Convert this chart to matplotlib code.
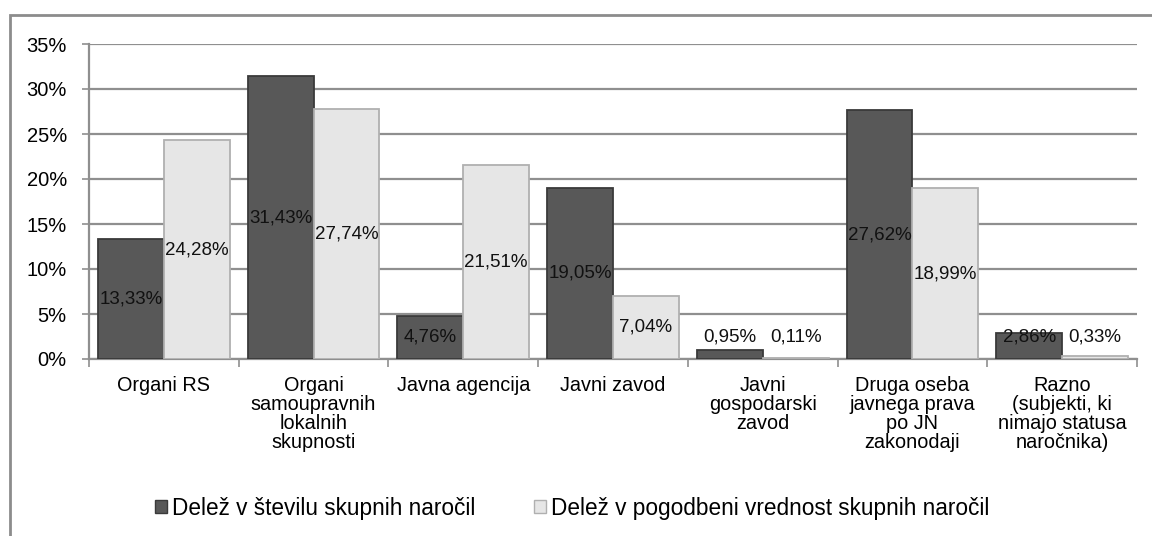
import matplotlib
matplotlib.use("Agg")
import matplotlib.pyplot as plt
import numpy as np
from matplotlib.patches import Rectangle, Patch

plt.rcParams['font.family'] = ['Liberation Sans', 'DejaVu Sans']

categories = [
    "Organi RS",
    "Organi\nsamoupravnih\nlokalnih\nskupnosti",
    "Javna agencija",
    "Javni zavod",
    "Javni\ngospodarski\nzavod",
    "Druga oseba\njavnega prava\npo JN\nzakonodaji",
    "Razno\n(subjekti, ki\nnimajo statusa\nnaročnika)",
]
share_count = [13.33, 31.43, 4.76, 19.05, 0.95, 27.62, 2.86]
share_value = [24.28, 27.74, 21.51, 7.04, 0.11, 18.99, 0.33]
series_names = ["Delež v številu skupnih naročil",
                "Delež v pogodbeni vrednost skupnih naročil"]
yticks = [0, 5, 10, 15, 20, 25, 30, 35]

fig = plt.figure(figsize=(11.52, 5.36), dpi=100)
W, H = 1152, 536
ax = fig.add_axes([89 / W, 1 - 359 / H, (1137 - 89) / W, (359 - 44) / H])

x = np.arange(len(categories))
bw = 0.44
dark, dark_edge = "#585858", "#3a3a3a"
light, light_edge = "#e6e6e6", "#b0b0b0"

ax.set_axisbelow(True)
ax.bar(x - bw / 2, share_count, bw, color=dark, edgecolor=dark_edge, linewidth=1.3, zorder=3)
ax.bar(x + bw / 2, share_value, bw, color=light, edgecolor=light_edge, linewidth=1.3, zorder=3)

def fmt(v):
    return f"{v:.2f}%".replace(".", ",")

for xi, v in zip(x, share_count):
    ax.text(xi - bw / 2, max(v / 2, 2.45), fmt(v), ha="center", va="center",
            fontsize=13.5, color="#111111", zorder=5)
for xi, v in zip(x, share_value):
    ax.text(xi + bw / 2, max(v / 2, 2.45), fmt(v), ha="center", va="center",
            fontsize=13.5, color="#111111", zorder=5)

ax.set_xlim(-0.5, len(categories) - 0.5)
ax.set_ylim(0, 35)
ax.set_yticks(yticks)
ax.set_yticklabels([f"{t}%" for t in yticks], fontsize=14.5)
ax.yaxis.grid(True, color="#8f8f8f", linewidth=1.6)
ax.tick_params(axis="y", length=5, width=1.2, color="#8f8f8f", pad=11)

ax.set_xticks(x)
ax.set_xticklabels(categories, fontsize=14.3, linespacing=1.0, va="top")
ax.tick_params(axis="x", which="major", length=0, pad=12)
ax.set_xticks(np.arange(-0.5, len(categories)), minor=True)
ax.tick_params(axis="x", which="minor", length=6, width=1.2, color="#8f8f8f")

for s in ["top", "right"]:
    ax.spines[s].set_visible(False)
for s in ["left", "bottom"]:
    ax.spines[s].set_color("#8f8f8f")
    ax.spines[s].set_linewidth(1.6)

# outer chart border
fig.patches.append(Rectangle((10 / W, -0.05), 1.2, 1 - 15 / H + 0.05, transform=fig.transFigure,
                             fill=False, edgecolor="#8c8c8c", linewidth=2, zorder=0))

handles = [Patch(facecolor=dark, edgecolor=dark_edge), Patch(facecolor=light, edgecolor=light_edge)]
fig.legend(handles, series_names, loc="center", bbox_to_anchor=(0.497, 1 - 508 / H), ncol=2,
           frameon=False, fontsize=16.3, handlelength=0.5, handleheight=0.45, handletextpad=0.25,
           columnspacing=2.6)

fig.savefig("out.png", dpi=100)
